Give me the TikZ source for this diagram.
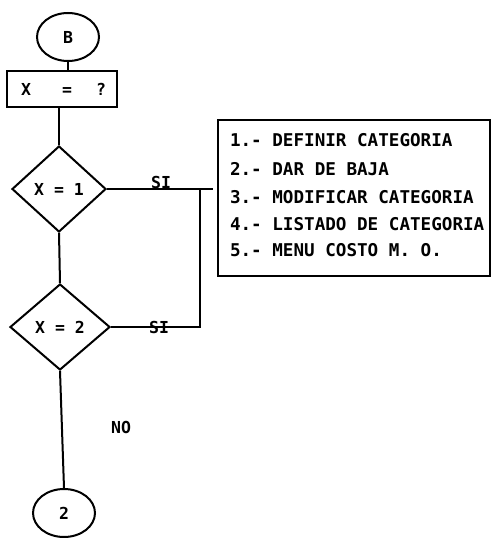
\documentclass[tikz,border=0pt]{standalone}
\usepackage{fontspec}
\setmonofont{DejaVu Sans Mono}
\usetikzlibrary{shapes.geometric}
\begin{document}
\begin{tikzpicture}[x=1pt,y=-1pt,line width=2pt,
  txt/.style={font=\ttfamily\bfseries\fontsize{16.5}{16.5}\selectfont},
  conn/.style={draw,ellipse,inner sep=0pt,minimum width=62pt,minimum height=48pt,txt},
  dec/.style={draw,diamond,inner sep=0pt,txt},
  item/.style={anchor=west,inner sep=0pt,font=\ttfamily\bfseries\fontsize{17.6}{17.6}\selectfont}]
\useasboundingbox (0,0) rectangle (493,538);
\node[conn] (b) at (68,37) {B};
\node[draw,minimum width=110pt,minimum height=36pt,inner sep=0pt] (q) at (62,89) {};
\node[txt,anchor=base,inner sep=0pt] (qx) at (26,95) {X};
\node[txt,anchor=base,inner sep=0pt] (qe) at (67,95) {=};
\node[txt,anchor=base,inner sep=0pt] (qq) at (101,95) {?};
\node[dec,minimum width=94pt,minimum height=86pt] (d1) at (59,189) {X = 1};
\node[dec,minimum width=100pt,minimum height=86pt] (d2) at (60,327) {X = 2};
\node[conn] (c2) at (64,513) {2};
\draw (218,120) rectangle (490,276);
\node[item] (m1) at (229,140) {1.- DEFINIR CATEGORIA};
\node[item] (m2) at (229,169) {2.- DAR DE BAJA};
\node[item] (m3) at (229,197) {3.- MODIFICAR CATEGORIA};
\node[item] (m4) at (229,224) {4.- LISTADO DE CATEGORIA};
\node[item] (m5) at (229,250) {5.- MENU COSTO M. O.};
\coordinate (e1) at (213,189);
\coordinate (j) at (200,189);
\draw (b) -- (b |- q.north);
\draw (q.south -| d1.north) -- (d1.north);
\draw (d1.south) -- (d2.north);
\draw (d2.south) -- (c2.north);
\draw (d1.east) -- (e1);
\draw (d2.east) -- (d2.east -| j) -- (j);
\node[txt,inner sep=0pt] (si1) at (161,182) {SI};
\node[txt,inner sep=0pt] (si2) at (159,327) {SI};
\node[txt,inner sep=0pt] (no) at (121,427) {NO};
\end{tikzpicture}
\end{document}
